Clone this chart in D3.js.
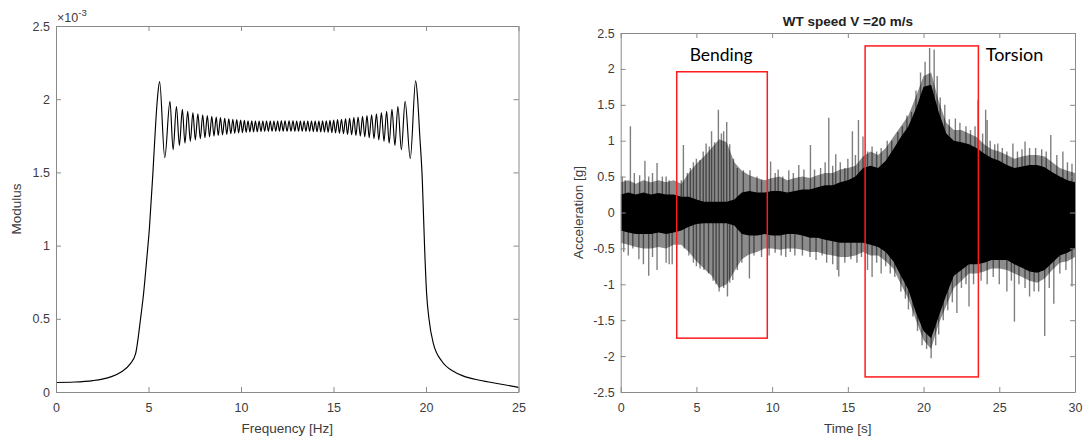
<!DOCTYPE html>
<html><head><meta charset="utf-8">
<script src="https://cdn.jsdelivr.net/npm/d3@7"></script>
<style>body{margin:0;background:#fff;} svg{display:block;}</style>
</head><body><svg id="c" width="1089" height="441"></svg>
<script>
// ---------- LEFT CHART DATA (Modulus, x10^-3) ----------
const freqHz = [0,1,2,2.5,3,3.5,4,4.3,4.57,4.74,4.9,5.05,5.24,5.4,5.5,
 5.60,5.88,6.16,6.33,6.51,6.67,6.83,6.97,7.12,7.26,7.40,7.53,7.67,7.80,7.93,8.05,8.18,8.30,8.42,8.54,8.66,8.77,8.89,9.00,9.12,9.23,9.34,9.45,9.56,9.66,9.77,9.87,9.98,10.08,10.18,10.28,10.38,10.48,10.58,10.68,10.78,10.88,10.98,11.08,11.18,11.28,11.38,11.48,11.58,11.68,11.78,11.88,11.98,12.08,12.18,12.28,12.38,12.49,
 12.60,12.70,12.81,12.91,13.01,13.11,13.21,13.31,13.41,13.51,13.61,13.71,13.81,13.91,14.01,14.11,14.21,14.31,14.41,14.51,14.61,14.71,14.81,14.91,15.01,15.11,15.22,15.32,15.43,15.54,15.65,15.76,15.87,15.98,16.10,16.21,16.33,16.45,16.57,16.69,16.81,16.93,17.06,17.19,17.32,17.45,17.59,17.73,17.87,18.01,18.16,18.32,18.48,18.67,18.87,19.15,19.44,
 19.55,19.65,19.8,19.92,20.03,20.16,20.4,20.86,21.5,22,22.9,24,25];
const modulus = [0.065,0.068,0.078,0.088,0.105,0.135,0.19,0.26,0.5,0.68,0.9,1.12,1.5,1.86,2.03,
 2.120,1.600,1.985,1.655,1.950,1.685,1.930,1.700,1.918,1.712,1.908,1.722,1.900,1.730,1.894,1.737,1.888,1.743,1.883,1.748,1.878,1.752,1.874,1.756,1.870,1.760,1.866,1.764,1.863,1.767,1.860,1.770,1.857,1.772,1.855,1.774,1.853,1.776,1.852,1.777,1.851,1.778,1.851,1.779,1.850,1.780,1.850,1.780,1.850,1.781,1.850,1.781,1.851,1.781,1.852,1.781,1.852,1.781,
 1.852,1.781,1.852,1.781,1.851,1.781,1.850,1.781,1.850,1.780,1.850,1.780,1.850,1.779,1.851,1.778,1.851,1.777,1.852,1.776,1.853,1.774,1.855,1.772,1.857,1.770,1.860,1.767,1.863,1.764,1.866,1.760,1.870,1.756,1.874,1.752,1.878,1.748,1.883,1.743,1.888,1.737,1.894,1.730,1.900,1.722,1.908,1.712,1.918,1.700,1.930,1.685,1.950,1.655,1.985,1.595,2.125,
 2.0,1.78,1.45,1.0,0.68,0.5,0.33,0.21,0.14,0.11,0.08,0.055,0.032];
const freqTicks = [0,5,10,15,20,25];
const modTicks = [0,0.5,1,1.5,2,2.5];

// ---------- RIGHT CHART DATA (Acceleration [g]) ----------
const timeS = [0,0.5,1,1.5,2,2.5,3,3.5,4,4.5,5,5.5,6,6.5,7,7.5,8,8.5,9,9.5,10,10.5,11,11.5,12,12.5,13,13.5,14,14.5,15,15.5,16,16.5,17,17.5,18,18.5,19,19.5,20,20.5,21,21.5,22,22.5,23,23.5,24,24.5,25,25.5,26,26.5,27,27.5,28,28.5,29,29.5,30];
const outerUpper = [0.42,0.45,0.4,0.45,0.42,0.45,0.42,0.45,0.4,0.55,0.68,0.78,0.9,1.02,0.98,0.7,0.58,0.52,0.48,0.45,0.48,0.5,0.45,0.48,0.5,0.48,0.52,0.55,0.55,0.6,0.62,0.65,0.78,0.85,0.8,0.9,1.05,1.2,1.35,1.62,1.9,1.95,1.55,1.25,1.15,1.15,1.1,1.05,0.95,0.88,0.85,0.8,0.75,0.78,0.8,0.8,0.78,0.7,0.62,0.58,0.55];
const outerLower = [-0.42,-0.45,-0.48,-0.5,-0.5,-0.48,-0.5,-0.45,-0.45,-0.55,-0.68,-0.78,-0.88,-1.05,-1.0,-0.82,-0.65,-0.58,-0.55,-0.5,-0.5,-0.52,-0.5,-0.5,-0.52,-0.55,-0.55,-0.58,-0.6,-0.62,-0.62,-0.6,-0.55,-0.6,-0.6,-0.68,-0.78,-1.0,-1.2,-1.5,-1.78,-1.9,-1.55,-1.3,-1.05,-0.95,-0.85,-0.85,-0.82,-0.78,-0.78,-0.8,-0.85,-0.9,-0.95,-0.98,-0.92,-0.8,-0.7,-0.68,-0.62];
const coreUpper = [0.25,0.28,0.25,0.28,0.25,0.27,0.25,0.25,0.22,0.22,0.18,0.15,0.15,0.15,0.15,0.18,0.28,0.3,0.28,0.28,0.3,0.3,0.28,0.3,0.32,0.32,0.35,0.38,0.38,0.42,0.45,0.5,0.62,0.65,0.62,0.72,0.88,1.05,1.2,1.45,1.75,1.78,1.4,1.1,1.0,0.98,0.95,0.9,0.82,0.76,0.72,0.66,0.62,0.64,0.66,0.66,0.63,0.56,0.5,0.45,0.42];
const coreLower = [-0.25,-0.28,-0.3,-0.3,-0.3,-0.28,-0.3,-0.28,-0.25,-0.2,-0.16,-0.15,-0.15,-0.15,-0.15,-0.18,-0.3,-0.32,-0.32,-0.3,-0.32,-0.32,-0.3,-0.3,-0.32,-0.35,-0.35,-0.38,-0.4,-0.42,-0.42,-0.42,-0.42,-0.45,-0.48,-0.55,-0.68,-0.88,-1.08,-1.4,-1.65,-1.75,-1.45,-1.15,-0.88,-0.8,-0.72,-0.72,-0.7,-0.66,-0.66,-0.66,-0.72,-0.77,-0.82,-0.84,-0.8,-0.7,-0.6,-0.56,-0.5];
// individual excursions (peaks of the raw signal)
const spikeTime = [
 0.1,0.3,0.64,0.9,1.25,1.6,1.85,2.1,2.4,2.75,3.0,3.2,
 0.2,0.5,0.8,1.2,1.5,1.85,2.1,2.4,3.0,3.2,3.4,
 4.0,4.14,4.4,4.6,4.8,5.0,5.24,5.45,5.64,5.85,6.0,6.2,6.45,6.65,6.8,7.0,7.2,7.45,7.7,8.1,8.54,9.0,9.3,
 4.2,4.5,4.8,5.0,5.24,5.5,5.8,6.1,6.3,6.5,6.8,7.05,7.2,7.4,7.7,8.0,8.5,8.8,9.3,
 9.9,10.2,10.4,10.7,11.1,11.4,11.76,12.1,12.53,12.8,13.2,13.5,13.74,14.0,14.2,14.5,14.8,15.0,15.3,15.5,15.7,16.0,
 9.8,10.2,10.6,10.9,11.2,11.5,12.0,12.5,12.9,13.3,13.6,14.0,14.3,14.4,14.8,15.2,15.6,15.9,
 16.3,16.6,16.9,17.2,17.6,17.9,18.3,18.6,18.9,19.2,19.5,19.8,20.1,20.4,20.7,20.9,21.1,21.4,21.7,22.1,22.4,22.8,23.1,23.4,23.6,
 16.3,16.6,16.9,17.2,17.5,17.8,18.1,18.5,18.8,19.0,19.3,19.6,19.9,20.2,20.5,20.8,21.0,21.3,21.6,21.9,22.2,22.5,22.8,23.0,23.3,
 23.9,24.1,24.2,24.4,24.7,24.9,25.2,25.5,25.9,26.2,26.5,26.7,27.0,27.4,27.8,28.1,28.4,28.8,29.2,29.5,29.8,
 23.8,24.2,24.6,25.0,25.5,25.8,26.0,26.3,26.7,27.0,27.3,27.6,28.0,28.3,28.6,29.0,29.4,29.8];
const spikeAcc = [
 0.5,0.45,1.2,0.55,0.52,0.72,0.5,0.55,0.69,0.5,0.5,0.45,
 -0.55,-0.6,-0.5,-0.65,-0.72,-0.88,-0.62,-0.8,-0.7,-0.72,-0.72,
 0.45,0.94,0.55,0.62,0.7,0.75,0.73,0.85,0.96,0.92,1.13,0.98,1.43,1.1,1.13,1.26,0.95,0.75,0.62,0.59,0.59,0.5,0.45,
 -0.5,-0.6,-0.7,-0.75,-0.78,-0.8,-0.85,-0.95,-1.0,-1.1,-1.05,-1.17,-0.98,-0.94,-0.8,-0.7,-0.92,-0.6,-0.62,
 0.71,0.55,0.6,0.5,0.59,0.55,0.66,0.6,0.94,0.6,0.62,0.7,1.32,0.65,0.81,0.7,0.62,0.75,1.13,0.8,1.29,1.06,
 -0.6,-0.56,-0.6,-0.62,-0.55,-0.6,-0.6,-0.62,-0.66,-0.6,-0.7,-0.72,-0.8,-0.89,-0.7,-0.65,-0.7,-0.62,
 0.85,0.92,0.85,0.9,1.0,1.0,1.12,1.2,1.35,1.4,1.7,1.95,2.1,2.29,2.27,1.9,1.6,1.5,1.3,1.31,1.25,1.2,1.15,1.2,1.57,
 -0.8,-0.9,-0.7,-0.85,-0.75,-0.85,-0.9,-1.1,-1.2,-1.35,-1.45,-1.65,-1.85,-1.9,-2.03,-1.85,-1.7,-1.5,-1.36,-1.25,-1.4,-1.05,-1.0,-1.31,-1.0,
 1.1,1.43,1.29,1.0,0.95,0.96,0.9,0.85,0.96,0.85,0.88,0.99,0.9,0.9,0.88,0.85,1.08,0.8,0.85,0.7,0.68,
 -0.95,-1.0,-0.9,-1.0,-1.1,-0.95,-1.52,-1.0,-1.05,-1.17,-1.1,-1.1,-1.72,-1.05,-1.27,-0.85,-0.8,-1.03];
const timeTicks = [0,5,10,15,20,25,30];
const accTicks = [-2.5,-2,-1.5,-1,-0.5,0,0.5,1,1.5,2,2.5];
const boxLabels = ["Bending","Torsion"];
const boxT0 = [3.70,16.14], boxT1 = [9.68,23.62], boxTop = [1.96,2.32], boxBot = [-1.75,-2.29];

// ---------- DRAWING ----------
const svg = d3.select("#c");
const AX = "#8a8a8a", TX = "#3c3c3c";
const FONT = "'Liberation Sans', Arial, Helvetica, sans-serif";

function frame(g, x, y, xt, yt) {
  const [x0,x1] = x.range(), [y1,y0] = y.range();
  const fmt = d => String(d);
  const st = sel => { sel.selectAll(".domain").attr("stroke",AX);
    sel.selectAll(".tick line").attr("stroke",AX);
    sel.selectAll(".tick text").attr("fill",TX).style("font-family",FONT).style("font-size","12.5px"); };
  g.append("g").attr("transform",`translate(0,${y1})`).call(d3.axisBottom(x).tickValues(xt).tickSize(-5).tickSizeOuter(0).tickPadding(11).tickFormat(fmt)).call(st);
  g.append("g").attr("transform",`translate(0,${y0})`).call(d3.axisTop(x).tickValues(xt).tickSize(-5).tickSizeOuter(0).tickFormat("")).call(st);
  g.append("g").attr("transform",`translate(${x0},0)`).call(d3.axisLeft(y).tickValues(yt).tickSize(-5).tickSizeOuter(0).tickPadding(6).tickFormat(fmt)).call(st);
  g.append("g").attr("transform",`translate(${x1},0)`).call(d3.axisRight(y).tickValues(yt).tickSize(-5).tickSizeOuter(0).tickFormat("")).call(st);
}

// Left chart
const xL = d3.scaleLinear().domain([0,25]).range([56,518.5]);
const yL = d3.scaleLinear().domain([0,2.5]).range([392,26]);
const gL = svg.append("g");
gL.append("path").datum(freqHz.map((f,i)=>[f,modulus[i]]))
  .attr("fill","none").attr("stroke","#000").attr("stroke-width",1.15)
  .attr("d", d3.line().x(d=>xL(d[0])).y(d=>yL(d[1])).curve(d3.curveMonotoneX));
frame(gL, xL, yL, freqTicks, modTicks);
gL.append("text").attr("x",57).attr("y",22).attr("fill",TX).style("font-family",FONT).style("font-size","12.5px")
  .text("×10").append("tspan").attr("dy",-6).style("font-size","9.5px").text("-3");
gL.append("text").attr("x",xL(12.5)).attr("y",433).attr("text-anchor","middle").attr("fill",TX)
  .style("font-family",FONT).style("font-size","13.5px").text("Frequency [Hz]");
gL.append("text").attr("transform",`translate(21,${(26+392)/2}) rotate(-90)`).attr("text-anchor","middle").attr("fill",TX)
  .style("font-family",FONT).style("font-size","13.5px").text("Modulus");

// Right chart
const xR = d3.scaleLinear().domain([0,30]).range([620.7,1075]);
const yR = d3.scaleLinear().domain([-2.5,2.5]).range([392,33]);
const gR = svg.append("g");
svg.append("clipPath").attr("id","clipR").append("rect").attr("x",620.7).attr("y",33).attr("width",1075-620.7).attr("height",392-33);
const sig = gR.append("g").attr("clip-path","url(#clipR)");
const pts = timeS.map((t,i)=>({t, ou:outerUpper[i], ol:outerLower[i], cu:coreUpper[i], cl:coreLower[i]}));
sig.append("path").datum(pts).attr("fill","#000").attr("fill-opacity",0.45)
  .attr("d", d3.area().x(d=>xR(d.t)).y0(d=>yR(d.ol)).y1(d=>yR(d.ou)));
sig.selectAll("line.spk").data(spikeTime.map((t,i)=>[t,spikeAcc[i]])).join("line").attr("class","spk")
  .attr("x1",d=>xR(d[0])).attr("x2",d=>xR(d[0])).attr("y1",yR(0)).attr("y2",d=>yR(d[1]))
  .attr("stroke","#000").attr("stroke-opacity",0.5).attr("stroke-width",1.4);
sig.append("path").datum(pts).attr("fill","#000")
  .attr("d", d3.area().x(d=>xR(d.t)).y0(d=>yR(d.cl)).y1(d=>yR(d.cu)));
frame(gR, xR, yR, timeTicks, accTicks);
gR.append("text").attr("x",(620.7+1075)/2).attr("y",26).attr("text-anchor","middle").attr("fill","#222")
  .style("font-family",FONT).style("font-size","13.5px").style("font-weight","bold").text("WT speed V =20 m/s");
gR.append("text").attr("x",(620.7+1075)/2).attr("y",433).attr("text-anchor","middle").attr("fill",TX)
  .style("font-family",FONT).style("font-size","13.5px").text("Time [s]");
gR.append("text").attr("transform",`translate(583,${(33+392)/2}) rotate(-90)`).attr("text-anchor","middle").attr("fill",TX)
  .style("font-family",FONT).style("font-size","13.5px").text("Acceleration [g]");

boxLabels.forEach((lab,i)=>{
  gR.append("rect").attr("x",xR(boxT0[i])).attr("y",yR(boxTop[i]))
    .attr("width",xR(boxT1[i])-xR(boxT0[i])).attr("height",yR(boxBot[i])-yR(boxTop[i]))
    .attr("fill","none").attr("stroke","#ff1a1a").attr("stroke-width",1.5);
});
const labX = [689.7, 985.7], labW = [63, 57.6];
boxLabels.forEach((lab,i)=>{
  const t = gR.append("text").attr("x",labX[i]).attr("y",61).attr("fill","#000")
    .style("font-family","Lato, 'Open Sans', sans-serif").style("font-size","17px").text(lab);
  const w = t.node().getComputedTextLength();
  t.style("font-size",(17*labW[i]/w).toFixed(2)+"px");
});
</script></body></html>
